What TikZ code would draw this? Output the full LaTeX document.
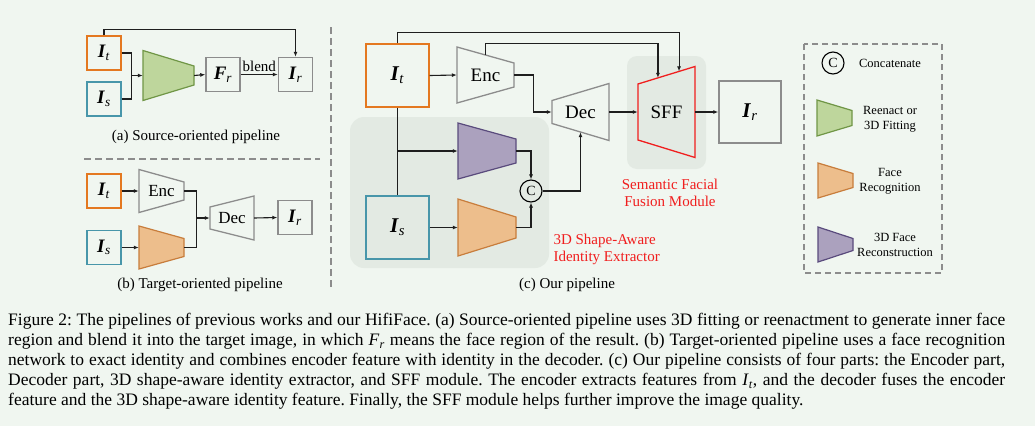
\documentclass[tikz,border=0pt]{standalone}
\usepackage{fontspec}
\setmainfont{Liberation Serif}
\usetikzlibrary{arrows.meta,calc}

\definecolor{pagebg}{RGB}{240,246,240}
\definecolor{panelbg}{RGB}{227,234,227}
\definecolor{tgtc}{RGB}{228,120,32}
\definecolor{srcc}{RGB}{72,150,170}
\definecolor{grayc}{RGB}{140,140,140}
\definecolor{linec}{RGB}{30,30,30}
\definecolor{greenf}{RGB}{190,214,156}
\definecolor{greend}{RGB}{112,150,70}
\definecolor{orangef}{RGB}{237,190,140}
\definecolor{oranged}{RGB}{200,125,60}
\definecolor{purplef}{RGB}{171,161,190}
\definecolor{purpled}{RGB}{90,75,125}
\definecolor{redc}{RGB}{240,30,30}

\newcommand\fsz[1]{\fontsize{#1}{#1}\selectfont}
\newcommand\bvar[2]{\textbf{\textit{#1}}\textsubscript{\textit{#2}}}
\newcommand\ivar[2]{\textit{#1}\textsubscript{\textit{#2}}}
% name, cx, cy, width, left h, right h, style, label
\newcommand\trapz[8]{%
  \path[#7] (#2-#4/2,#3-#5/2) coordinate (#1-nw) -- (#2+#4/2,#3-#6/2) coordinate (#1-ne)
    -- (#2+#4/2,#3+#6/2) coordinate (#1-se) -- (#2-#4/2,#3+#5/2) coordinate (#1-sw) -- cycle;
  \node[inner sep=0, minimum width=#4, minimum height=(#5+#6)/2] (#1) at (#2,#3) {#8};}

\frenchspacing
\begin{document}
\begin{tikzpicture}[x=1pt,y=-1pt,
    >={Latex[length=5,width=4]},
    wire/.style={draw=linec, line width=1.1},
    imgbox/.style={draw=#1, line width=1.4, inner sep=0, minimum width=34, minimum height=34, font=\fsz{19}},
    bigbox/.style={imgbox=#1, minimum width=63, minimum height=63, font=\fsz{21}},
    tgray/.style={draw=grayc, fill=pagebg, line width=1.3},
    tred/.style={draw=redc, line width=1.3},
    tgreen/.style={draw=greend, fill=greenf, line width=1.2},
    torange/.style={draw=oranged, fill=orangef, line width=1.2},
    tpurple/.style={draw=purpled, fill=purplef, line width=1.2},
    catnode/.style={circle, draw=black, line width=1.1, minimum size=22, inner sep=0, font=\fsz{14}},
    sep/.style={draw=grayc, line width=1.2, dash pattern=on 7 off 4},
    capt/.style={font=\fsz{15}},
    note/.style={text=redc, font=\fontsize{15}{17}\selectfont},
    legtxt/.style={font=\fontsize{12.5}{15}\selectfont, align=center}]
  \useasboundingbox (0,0) rectangle (1035,426);
  \fill[pagebg] (0,0) rectangle (1035,426);

  % (a) source-oriented
  \node[imgbox=tgtc] (at) at (104,53) {\bvar{I}{t}};
  \node[imgbox=srcc] (as) at (104,99) {\bvar{I}{s}};
  \trapz{fit}{168.5}{75.5}{51}{50}{19}{tgreen}{}
  \node[imgbox=grayc] (fr) at (223,74.5) {\bvar{F}{r}};
  \node[imgbox=grayc] (ar) at (295.5,74.5) {\bvar{I}{r}};
  \coordinate (ja) at ($(fit.west)+(-11,0)$);
  \draw[wire] (at.east) -| (ja);
  \draw[wire] (as.east) -| (ja);
  \draw[wire,->] (ja) -- (fit.west);
  \draw[wire,->] (fit.east) -- (fr.west);
  \draw[wire,->] (fr.east) -- node[above, inner sep=2.5, font=\fsz{15}] (blend) {blend} (ar.west);
  \draw[wire,->] (at.north) -- ++(0,-6) -| (ar.north);
  \node[capt] (capa) at (196,137) {(a) Source-oriented pipeline};

  \draw[sep] (84,159) -- (320,159);
  \draw[sep] (331,27) -- (331,287);

  % (b) target-oriented
  \node[imgbox=tgtc] (bt) at (104,191) {\bvar{I}{t}};
  \node[imgbox=srcc] (bs) at (104,247.5) {\bvar{I}{s}};
  \trapz{benc}{161.5}{191}{45}{43}{18}{tgray}{\fsz{17}Enc}
  \trapz{bid}{161.5}{247.5}{45}{43}{18}{torange}{}
  \trapz{bdec}{232}{218}{44}{22}{44}{tgray}{\fsz{17}Dec}
  \node[imgbox=grayc] (br) at (295,217.5) {\bvar{I}{r}};
  \coordinate (jb) at ($(bdec.west)+(-13,0)$);
  \draw[wire,->] (bt.east) -- (benc.west);
  \draw[wire,->] (bs.east) -- (bid.west);
  \draw[wire] (benc.east) -| (jb);
  \draw[wire] (bid.east) -| (jb);
  \draw[wire,->] (jb) -- (bdec.west);
  \draw[wire,->] (bdec.east) -- (br.west);
  \node[capt] (capb) at (200,285) {(b) Target-oriented pipeline};

  % (c) our pipeline
  \fill[panelbg, rounded corners=14] (350,117) rectangle (549,268);
  \fill[panelbg, rounded corners=10] (627,56) rectangle (706,169);
  \node[bigbox=tgtc] (ct) at (397.5,75.5) {\bvar{I}{t}};
  \node[bigbox=srcc] (cs) at (397.5,227.5) {\bvar{I}{s}};
  \trapz{cenc}{485.5}{75}{57}{56}{24}{tgray}{\fsz{19}Enc}
  \trapz{cdec}{580.5}{112}{57}{23}{57}{tgray}{\fsz{19}Dec}
  \trapz{sff}{666.5}{112}{57}{56}{91}{tred}{\fsz{19}SFF}
  \node[bigbox=grayc, minimum width=62, minimum height=62] (cr) at (750,112) {\bvar{I}{r}};
  \trapz{c3d}{487}{151}{58}{56}{24}{tpurple}{}
  \trapz{cid}{487}{227.5}{58}{57}{21}{torange}{}
  \node[catnode] (cat) at (531,191) {C};

  \draw[wire,->] (ct.east) -- (cenc.west);
  \draw[wire,->] (cenc.east) -- ++(19,0) |- (cdec.west);
  \draw[wire,->] (cdec.east) -- (sff.west);
  \draw[wire,->] (sff.east) -- (cr.west);
  \draw[wire,->] (ct.north) -- ++(0,-11) -| ($(sff-nw)!.72!(sff-ne)$);
  \draw[wire,->] (cenc.north) -- ++(0,-11) -| ($(sff-nw)!.35!(sff-ne)$);
  \draw[wire] (ct.south) -- (cs.north);
  \draw[wire,->] (ct.south |- c3d.west) -- (c3d.west);
  \draw[wire,->] (cs.east) -- (cid.west);
  \draw[wire,->] (c3d.east) -| (cat.north);
  \draw[wire,->] (cid.east) -| (cat.south);
  \draw[wire,->] (cat.east) -| (cdec.south);

  \node[note, align=center] (sffnote) at (670,193) {Semantic Facial\\Fusion Module};
  \node[note, align=left, anchor=west] (idnote) at (550,249.5) {3D Shape-Aware\\Identity Extractor};
  \node[capt] (capc) at (567,285) {(c) Our pipeline};

  % legend
  \draw[sep, dash pattern=on 6 off 4] (804,44) rectangle (942,273);
  \node[catnode] (lgcat) at (833,63) {C};
  \node[legtxt] (lgcattxt) at (890,63) {Concatenate};
  \trapz{lgfit}{834.5}{118}{35}{36}{15}{tgreen}{}
  \node[legtxt] (lgfittxt) at (890,119) {Reenact or\\3D Fitting};
  \trapz{lgid}{835.5}{180.5}{35}{35}{14}{torange}{}
  \node[legtxt] (lgidtxt) at (890,181) {Face\\Recognition};
  \trapz{lg3d}{835.5}{244.5}{35}{35}{12}{tpurple}{}
  \node[legtxt] (lg3dtxt) at (895,244.5) {3D Face\\Reconstruction};

  % caption
  \node[anchor=north west, inner sep=0, text width=997, align=justify,
    font=\fontsize{17.5}{20}\selectfont] (fig) at (8,313) {Figure 2: The pipelines of previous works and our HifiFace. (a) Source-oriented pipeline uses 3D fitting or reenactment to generate inner face\linebreak
    region and blend it into the target image, in which \ivar{F}{r} means the face region of the result. (b) Target-oriented pipeline uses a face recognition\linebreak
    network to exact identity and combines encoder feature with identity in the decoder. (c) Our pipeline consists of four parts: the Encoder part,\linebreak
    Decoder part, 3D shape-aware identity extractor, and SFF module. The encoder extracts features from \ivar{I}{t}, and the decoder fuses the encoder\linebreak
    feature and the 3D shape-aware identity feature. Finally, the SFF module helps further improve the image quality.};
\end{tikzpicture}
\end{document}
